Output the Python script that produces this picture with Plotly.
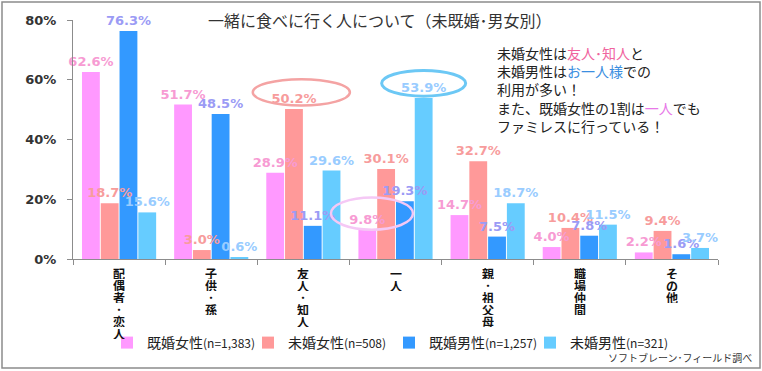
import plotly.graph_objects as go

categories = ["配偶者･恋人", "子供･孫", "友人･知人", "一人", "親･祖父母", "職場仲間", "その他"]
series_names = ["既婚女性<span style='font-size:12px'>(n=1,383)</span>",
                "未婚女性<span style='font-size:12px'>(n=508)</span>",
                "既婚男性<span style='font-size:12px'>(n=1,257)</span>",
                "未婚男性<span style='font-size:12px'>(n=321)</span>"]
married_women = [62.6, 51.7, 28.9, 9.8, 14.7, 4.0, 2.2]
single_women = [18.7, 3.0, 50.2, 30.1, 32.7, 10.4, 9.4]
married_men = [76.3, 48.5, 11.1, 19.3, 7.5, 7.8, 1.6]
single_men = [15.6, 0.6, 29.6, 53.9, 18.7, 11.5, 3.7]
y_ticks = [0, 20, 40, 60, 80]
y_tick_labels = ["0%", "20%", "40%", "60%", "80%"]

bar_colors = ["#FF99FF", "#FF9999", "#3399FF", "#66CCFF"]
label_colors = ["#F79BD3", "#F79C9C", "#9B9BF5", "#99CCFF"]
values = [married_women, single_women, married_men, single_men]

CJK = "Noto Sans CJK JP"
NUM = "DejaVu Sans"

fig = go.Figure()
for k, (name, vals, bc) in enumerate(zip(series_names, values, bar_colors)):
    fig.add_trace(go.Bar(
        x=categories, y=vals, name=name, offsetgroup=str(k),
        marker=dict(color=bc, line=dict(width=0)),
        hoverinfo="skip",
    ))
# value labels drawn on top of all bars (transparent twin bars in the same slots)
for k, (vals, lc) in enumerate(zip(values, label_colors)):
    fig.add_trace(go.Bar(
        x=categories, y=vals, offsetgroup=str(k), showlegend=False,
        marker=dict(color="rgba(0,0,0,0)", line=dict(width=0)),
        texttemplate="%{y:.1f}%", textposition="outside",
        constraintext="none", cliponaxis=False,
        textfont=dict(family=NUM, size=13, color=lc, weight="bold"),
        hoverinfo="skip",
    ))

groupw = 0.815
barw = groupw / 4
def bar_center(cat_idx, series_idx):
    return cat_idx - groupw / 2 + barw * (series_idx + 0.5)

shapes = []
ell = [
    (categories.index("友人･知人"), 1, single_women[2], 0.527, 5.6, 4.4, "#F4A3A3", 2.5, 0.08),
    (categories.index("一人"), 3, single_men[3], 0.456, 4.9, 4.3, "#6CC8F5", 3, 0.0),
    (categories.index("一人"), 0, married_women[3], 0.445, 5.4, 5.4, "#F5C8F5", 2.5, 0.05),
]
for ci, si, v, hw, dy, hh, col, lw, dx in ell:
    cx = bar_center(ci, si) + dx
    cy = v + dy
    shapes.append(dict(type="circle", xref="x", yref="y",
                       x0=cx - hw, x1=cx + hw, y0=cy - hh, y1=cy + hh,
                       line=dict(color=col, width=lw), layer="above"))

W, H = 762, 371
L, R, T, B = 73, 44, 20, 112
pw, ph = W - L - R, H - T - B
shapes.append(dict(type="rect", xref="paper", yref="paper",
                   x0=(2 - L) / pw, x1=(760 - L) / pw,
                   y0=(H - B - 368) / ph, y1=(H - B - 2) / ph,
                   line=dict(color="#8C8C8C", width=1.5)))

annotations = [
    dict(text="一緒に食べに行く人について（未既婚･男女別）", xref="paper", yref="paper",
         x=(380 - L) / pw, y=(H - B - 20) / ph, xanchor="center", yanchor="middle",
         showarrow=False, font=dict(family=CJK, size=16, color="#333333")),
    dict(text=("未婚女性は<span style='color:#F0649E'>友人･知人</span>と<br>"
               "未婚男性は<span style='color:#3B8EE0'>お一人様</span>での<br>"
               "利用が多い！<br>"
               "また、既婚女性の1割は<span style='color:#E878E8'>一人</span>でも<br>"
               "ファミレスに行っている！"),
         xref="paper", yref="paper", x=(495 - L) / pw, y=(H - B - 41) / ph,
         xanchor="left", yanchor="top", align="left", showarrow=False,
         font=dict(family=CJK, size=14, color="#222222")),
    dict(text="ソフトブレーン･フィールド調べ", xref="paper", yref="paper",
         x=(606 - L) / pw, y=(H - B - 357) / ph, xanchor="left", yanchor="middle",
         showarrow=False, font=dict(family=CJK, size=10, color="#333333")),
]
# vertical category labels: one character per row, each in a 12px-high box
for cat in categories:
    for j, ch in enumerate(cat):
        annotations.append(dict(
            text=ch, x=cat, xref="x", y=0, yref="y", xanchor="center", yanchor="top",
            yshift=-(7 + 12 * j), showarrow=False, height=12, borderpad=0,
            font=dict(family=CJK, size=12, color="#111111", weight="bold")))

fig.update_layout(
    width=W, height=H,
    margin=dict(l=L, r=R, t=T, b=B, autoexpand=False),
    paper_bgcolor="white", plot_bgcolor="white",
    barmode="group", bargap=0.185, bargroupgap=0.05,
    showlegend=True,
    legend=dict(orientation="h", x=(107 - L) / pw, xanchor="left",
                y=(H - B - 343) / ph, yanchor="middle",
                font=dict(family=CJK, size=14, color="#222222"),
                itemwidth=30, entrywidth=96, entrywidthmode="pixels",
                bgcolor="rgba(0,0,0,0)", tracegroupgap=0),
    xaxis=dict(showline=True, linecolor="#8C8C8C", linewidth=1, automargin=False,
               ticks="outside", tickson="boundaries", ticklen=5, tickcolor="#8C8C8C",
               showgrid=False, showticklabels=False,
               categoryorder="array", categoryarray=categories),
    yaxis=dict(range=[0, 80], tickvals=y_ticks, ticktext=y_tick_labels,
               showline=True, linecolor="#8C8C8C", linewidth=1, automargin=False,
               ticks="outside", ticklen=5, tickcolor="#8C8C8C",
               showgrid=False, zeroline=False, ticklabelstandoff=8,
               tickfont=dict(family=NUM, size=13, color="#333333", weight="bold")),
    shapes=shapes, annotations=annotations,
)

fig.write_html("out.html", config={"displayModeBar": False},
               post_script="document.body.style.margin='0';")
